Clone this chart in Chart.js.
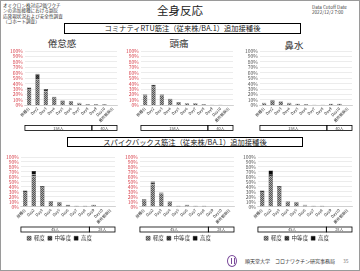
<!DOCTYPE html>
<html><head><meta charset="utf-8">
<script src="https://cdn.jsdelivr.net/npm/chart.js@4.4.0/dist/chart.umd.min.js"></script>
<style>
html,body{margin:0;padding:0;background:#fff;}
body{width:360px;height:271px;position:relative;overflow:hidden;font-family:"Noto Sans CJK JP","Noto Sans",sans-serif;color:#222;}
.abs{position:absolute;white-space:nowrap;}
.frame{position:absolute;left:0;top:0;width:358px;height:269px;border:1px solid #9a9a9a;}
.note{left:3px;top:3px;font-size:4.6px;line-height:5.3px;color:#333;}
.title{left:0;width:360px;top:3px;text-align:center;font-size:11.5px;line-height:14px;color:#222;}
.cut{left:312px;top:5px;font-size:4.6px;line-height:5px;color:#444;}
.box{border:1px solid #000;text-align:center;font-size:7.3px;color:#222;box-sizing:border-box;}
.ct{font-size:9.5px;line-height:10px;color:#333;text-align:center;width:60px;}
.cw{position:absolute;}
.foot{font-size:5px;line-height:6px;color:#333;}
.logo{position:absolute;left:227px;top:255px;width:10px;height:12px;border:1px solid #7a4a9a;border-radius:50%;box-sizing:border-box;}
.logo:after{content:"";position:absolute;left:3px;top:2px;width:2px;height:6px;border-left:1px solid #7a4a9a;border-right:1px solid #7a4a9a;}
</style></head><body>
<div class="frame"></div>
<div class="abs note">オミクロン株対応2価ワクチ<br>ンの追加接種における副反<br>応発現状況および安全性調査<br>（コホート調査）</div>
<div class="abs title">全身反応</div>
<div class="abs cut">Data Cutoff Date<br>2022/12/2 7:00</div>
<div class="abs box" style="left:64px;top:23px;width:237px;height:11px;line-height:9px;">コミナティRTU筋注（従来株/BA.1）追加接種後</div>
<div class="abs box" style="left:67px;top:137px;width:236px;height:10px;line-height:8px;">スパイクバックス筋注（従来株/BA.1）追加接種後</div>
<div class="abs ct" style="left:32px;top:38px;">倦怠感</div>
<div class="abs ct" style="left:149px;top:38px;">頭痛</div>
<div class="abs ct" style="left:264px;top:40px;">鼻水</div>

<div class="cw" style="left:8px;top:46px;"><canvas id="c1" width="110" height="85"></canvas></div>
<div class="cw" style="left:124px;top:46px;"><canvas id="c2" width="110" height="85"></canvas></div>
<div class="cw" style="left:243px;top:46px;"><canvas id="c3" width="110" height="85"></canvas></div>
<div class="cw" style="left:4px;top:152px;"><canvas id="c4" width="112" height="99"></canvas></div>
<div class="cw" style="left:123px;top:152px;"><canvas id="c5" width="112" height="99"></canvas></div>
<div class="cw" style="left:241px;top:152px;"><canvas id="c6" width="112" height="99"></canvas></div>

<div class="logo"></div>
<div class="abs foot" style="left:245px;top:258px;">順天堂大学　コロナワクチン研究事務局</div>
<div class="abs foot" style="left:343px;top:258px;color:#888;">35</div>

<script>
// ---- data ----
const categories = ['接種日','Day2','Day3','Day4','Day5','Day6','Day7','Day8','Day9','Day10','最終観察日'];
const severityLabels = ['軽度','中等度','高度'];
const topGroupLabels = ['158人','40人'];
const topGroupSpans = [8,3];
const bottomGroupLabels = ['45人','28人'];
const bottomGroupSpans = [8,3];

// コミナティRTU — 倦怠感
const comFatigueMild = [29,48,26,14,8,7,4,2,2,2,0];
const comFatigueMod  = [4,9,4,2,1,1,1,0,0,0,0];
const comFatigueSev  = [0,1,0,0,0,0,0,0,0,0,0];
// コミナティRTU — 頭痛
const comHeadMild = [18,34,18,11,5,4,4,2,1,1,0];
const comHeadMod  = [2,4,2,1,1,0,0,0,0,0,0];
const comHeadSev  = [0,0,0,0,0,0,0,0,0,0,0];
// コミナティRTU — 鼻水
const comNoseMild = [4,8,7,4,3,2,1,1,3,3,0];
const comNoseMod  = [1,1,0,1,0,0,0,0,0,0,0];
const comNoseSev  = [0,1,0,0,0,0,0,0,0,0,0];
// スパイクバックス — left
const spkLeftMild = [30,61,40,11,9,2,2,2,4,0,0];
const spkLeftMod  = [3,4,2,0,0,0,0,0,0,0,0];
const spkLeftSev  = [0,7,0,0,0,2,0,0,0,0,0];
// スパイクバックス — middle
const spkMidMild = [13,45,27,10,2,3,2,2,0,0,0];
const spkMidMod  = [2,4,2,1,0,0,0,0,0,0,0];
const spkMidSev  = [0,2,0,0,0,1,0,0,0,0,0];
// スパイクバックス — right
const spkRightMild = [30,62,40,10,9,2,2,2,0,0,0];
const spkRightMod  = [3,4,2,1,0,1,0,0,0,0,0];
const spkRightSev  = [0,7,0,0,0,1,0,0,0,0,0];

// ---- styles ----
function makePattern(bg, fg){
  const c=document.createElement('canvas'); c.width=2; c.height=2;
  const x=c.getContext('2d'); x.fillStyle=bg; x.fillRect(0,0,2,2);
  x.fillStyle=fg; x.fillRect(0,0,1,1); x.fillRect(1,1,1,1);
  return x.createPattern(c,'repeat');
}
const FONT = '"Noto Sans CJK JP","Noto Sans",sans-serif';
const sevColors = [makePattern('#a8a8a8','#555555'), makePattern('#4a4a4a','#262626'), '#0a0a0a'];

const groupBoxPlugin = {
  id:'groupBox',
  afterDraw(chart, args, opts){
    if(!opts || !opts.labels) return;
    const xs = chart.scales.x, ctx = chart.ctx;
    const step = xs.getPixelForValue(1) - xs.getPixelForValue(0);
    const top = xs.bottom - opts.h - opts.gap;
    ctx.save();
    ctx.strokeStyle='#000'; ctx.lineWidth=0.8;
    ctx.fillStyle='#444'; ctx.font='3.8px '+FONT;
    ctx.textAlign='center'; ctx.textBaseline='middle';
    let idx=0;
    opts.labels.forEach((lab,i)=>{
      const n = opts.spans[i];
      const l = xs.getPixelForValue(idx) - step/2;
      const r = xs.getPixelForValue(idx+n-1) + step/2;
      ctx.strokeRect(l, top, r-l, opts.h);
      ctx.fillText(lab, (l+r)/2, top+opts.h/2+0.3);
      idx += n;
    });
    ctx.restore();
  }
};

function makeChart(id, mild, mod, sev, tickColor, groupLabels, groupSpans, showLegend, extra){
  new Chart(document.getElementById(id), {
    type:'bar',
    data:{
      labels: categories,
      datasets:[
        {label:severityLabels[0], data:mild, backgroundColor:sevColors[0]},
        {label:severityLabels[1], data:mod,  backgroundColor:sevColors[1]},
        {label:severityLabels[2], data:sev,  backgroundColor:sevColors[2]}
      ].map(d=>Object.assign(d,{borderColor:'#222', borderWidth:0.4, barPercentage:0.55, categoryPercentage:0.95}))
    },
    options:{
      responsive:false, animation:false,
      layout:{padding:{top:1,right:1,left:0,bottom:0}},
      plugins:{
        legend:{display:showLegend, position:'bottom',
          labels:{boxWidth:4, boxHeight:4, padding:3, color:'#333', font:{size:5.5, family:FONT}}},
        tooltip:{enabled:false},
        groupBox:{labels:groupLabels, spans:groupSpans, h:5, gap:0.5}
      },
      scales:{
        x:{stacked:true,
          grid:{display:false, drawTicks:false},
          border:{display:true, color:'#bfbfbf', width:0.6},
          ticks:{minRotation:45, maxRotation:45, autoSkip:false, padding:1, color:'#333', font:{size:3.8, family:FONT}},
          afterFit(scale){ scale.height += extra; }
        },
        y:{stacked:true, min:0, max:100,
          grid:{color:'#d9d9d9', lineWidth:0.5, drawTicks:false},
          border:{display:false},
          ticks:{stepSize:10, autoSkip:false, padding:2, color:tickColor, font:{size:5, family:FONT}, callback:v=>v+'%'}
        }
      }
    },
    plugins:[groupBoxPlugin]
  });
}
const RED='#d9434e', GRAY='#555555';
makeChart('c1', comFatigueMild, comFatigueMod, comFatigueSev, RED, topGroupLabels, topGroupSpans, false, 7);
makeChart('c2', comHeadMild, comHeadMod, comHeadSev, RED, topGroupLabels, topGroupSpans, false, 7);
makeChart('c3', comNoseMild, comNoseMod, comNoseSev, GRAY, topGroupLabels, topGroupSpans, false, 7);
makeChart('c4', spkLeftMild, spkLeftMod, spkLeftSev, RED, bottomGroupLabels, bottomGroupSpans, true, 7);
makeChart('c5', spkMidMild, spkMidMod, spkMidSev, RED, bottomGroupLabels, bottomGroupSpans, true, 7);
makeChart('c6', spkRightMild, spkRightMod, spkRightSev, GRAY, bottomGroupLabels, bottomGroupSpans, true, 7);
</script>
</body></html>
